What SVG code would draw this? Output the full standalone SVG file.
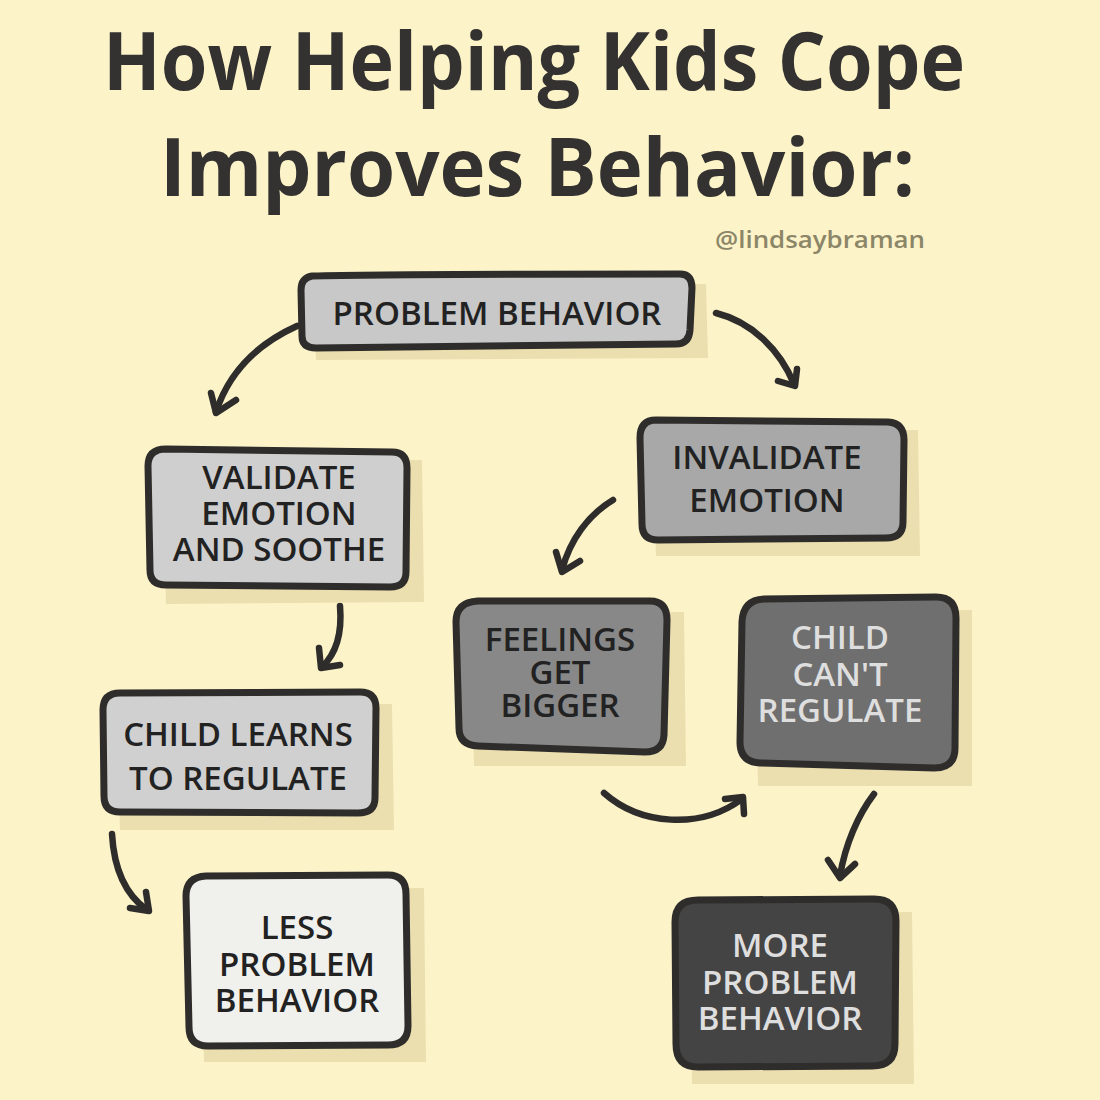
<svg xmlns="http://www.w3.org/2000/svg" width="1100" height="1100" viewBox="0 0 1100 1100">
<style>
.box{stroke:#2e2d2b;stroke-width:7;stroke-linejoin:round}
.shadow{fill:#ebdfaf}
.lbl{font-family:"Open Sans","Liberation Sans",sans-serif;font-weight:600;font-size:33px;text-anchor:middle;fill:#222}
.light{fill:#dedede}
.title{font-family:"Open Sans","Liberation Sans",sans-serif;font-weight:700;font-size:80px;fill:#333230}
.arr{fill:none;stroke:#2e2d2b;stroke-width:6.5;stroke-linecap:round;stroke-linejoin:round}
</style>
<rect width="1100" height="1100" fill="#fdf3c9"/>
<text class="title" x="103" y="90" textLength="862" lengthAdjust="spacingAndGlyphs">How Helping Kids Cope</text>
<text class="title" x="160" y="196" textLength="755" lengthAdjust="spacingAndGlyphs">Improves Behavior:</text>
<text x="715" y="248" font-family="Open Sans, Liberation Sans, sans-serif" font-weight="600" font-size="24" fill="#8c8668" textLength="210" lengthAdjust="spacingAndGlyphs">@lindsaybraman</text>

<g id="connectors">
<path class="arr" d="M297,326 C255,345 228,375 216,412"/>
<path class="arr" d="M211,393 L216,413 L236,400"/>
<path class="arr" d="M716,313 C752,322 780,350 794,384"/>
<path class="arr" d="M778,381 L795,386 L797,369"/>
<path class="arr" d="M340,606 C342,630 338,652 322,667"/>
<path class="arr" d="M319,648 L321,668 L340,665"/>
<path class="arr" d="M613,500 C588,515 570,540 562,570"/>
<path class="arr" d="M556,552 L562,572 L580,561"/>
<path class="arr" d="M112,834 C114,870 126,895 147,910"/>
<path class="arr" d="M130,908 L149,911 L146,892"/>
<path class="arr" d="M604,793 C640,825 700,830 742,799"/>
<path class="arr" d="M725,799 L743,797 L744,814"/>
<path class="arr" d="M874,794 C858,815 845,845 840,876"/>
<path class="arr" d="M828,860 L840,878 L855,864"/>
</g>

<g id="n1">
<path class="shadow" d="M312,288 L706,284 L708,358 L316,360 Z"/>
<path class="box" fill="#c8c8c8" d="M312,276 Q380,274 680,274 Q692,274 692,288 L690,330 Q689,344 676,344 L316,348 Q302,348 302,336 L301,290 Q301,278 312,276 Z"/>
<text class="lbl" x="497" y="325">PROBLEM BEHAVIOR</text>
</g>

<g id="n2">
<path class="shadow" d="M162,462 L422,460 L424,602 L166,604 Z"/>
<path class="box" fill="#cfcfcf" d="M166,449 L392,452 Q407,452 407,468 L406,572 Q406,587 390,587 L166,585 Q150,585 150,570 L148,466 Q148,449 166,449 Z"/>
<text class="lbl" x="279" y="489">VALIDATE</text>
<text class="lbl" x="279" y="525">EMOTION</text>
<text class="lbl" x="279" y="561">AND SOOTHE</text>
</g>

<g id="n3">
<path class="shadow" d="M652,432 L918,430 L920,556 L656,556 Z"/>
<path class="box" fill="#a8a8a8" d="M656,420 L888,422 Q904,423 904,440 L903,522 Q903,538 886,538 L658,540 Q642,540 642,524 L640,438 Q640,420 656,420 Z"/>
<text class="lbl" x="767" y="469">INVALIDATE</text>
<text class="lbl" x="767" y="512">EMOTION</text>
</g>

<g id="n4">
<path class="shadow" d="M470,614 L684,612 L686,766 L474,766 Z"/>
<path class="box" fill="#888888" d="M478,601 L650,601 Q667,601 667,620 L664,735 Q663,752 645,752 L478,746 Q459,745 459,728 L456,622 Q456,602 478,601 Z"/>
<text class="lbl" x="560" y="651">FEELINGS</text>
<text class="lbl" x="560" y="684">GET</text>
<text class="lbl" x="560" y="717">BIGGER</text>
</g>

<g id="n5">
<path class="shadow" d="M754,612 L972,610 L972,786 L758,786 Z"/>
<path class="box" fill="#6f6f6f" d="M764,599 L936,597 Q956,597 956,618 L955,748 Q955,768 934,768 L760,763 Q740,762 740,742 L742,622 Q743,600 764,599 Z"/>
<text class="lbl light" x="840" y="649">CHILD</text>
<text class="lbl light" x="840" y="686">CAN'T</text>
<text class="lbl light" x="840" y="722">REGULATE</text>
</g>

<g id="n6">
<path class="shadow" d="M116,706 L392,704 L394,830 L120,830 Z"/>
<path class="box" fill="#d0d0d0" d="M120,693 L360,692 Q376,692 376,708 L375,798 Q375,813 358,813 L120,812 Q104,812 104,796 L103,710 Q103,693 120,693 Z"/>
<text class="lbl" x="238" y="746">CHILD LEARNS</text>
<text class="lbl" x="238" y="790">TO REGULATE</text>
</g>

<g id="n7">
<path class="shadow" d="M200,890 L424,888 L426,1062 L204,1062 Z"/>
<path class="box" fill="#f0f0ec" d="M206,876 L388,875 Q406,875 406,894 L408,1026 Q408,1045 388,1045 L208,1046 Q189,1046 189,1027 L186,896 Q186,877 206,876 Z"/>
<text class="lbl" x="297" y="939">LESS</text>
<text class="lbl" x="297" y="976">PROBLEM</text>
<text class="lbl" x="297" y="1012">BEHAVIOR</text>
</g>

<g id="n8">
<path class="shadow" d="M688,914 L912,912 L914,1084 L692,1084 Z"/>
<path class="box" fill="#444444" d="M698,900 L874,899 Q896,899 896,921 L895,1044 Q895,1066 872,1066 L698,1067 Q676,1067 676,1044 L675,922 Q675,900 698,900 Z"/>
<text class="lbl light" x="780" y="957">MORE</text>
<text class="lbl light" x="780" y="994">PROBLEM</text>
<text class="lbl light" x="780" y="1030">BEHAVIOR</text>
</g>
</svg>
